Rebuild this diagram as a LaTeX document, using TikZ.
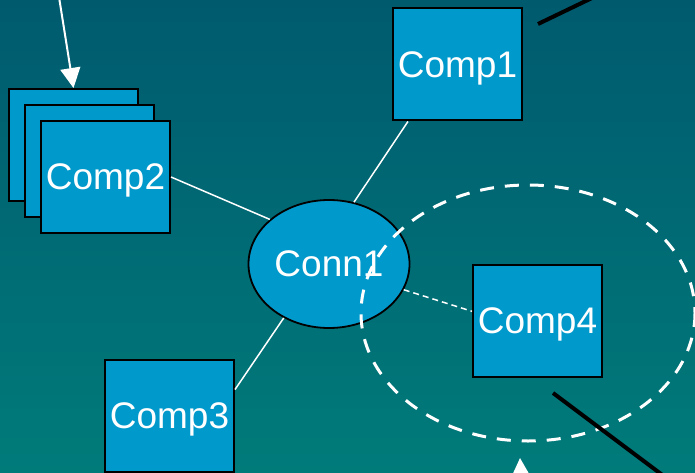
\documentclass[tikz,border=0pt]{standalone}
\usepackage{fontspec}
\setmainfont{Liberation Sans}
\usetikzlibrary{shapes.geometric,arrows.meta}
\definecolor{bgtop}{RGB}{0,90,110}
\definecolor{bgbot}{RGB}{0,123,122}
\definecolor{compblue}{RGB}{0,153,204}

\begin{document}
\begin{tikzpicture}[x=1pt, y=-1pt,
  comp/.style={draw=black, line width=2pt, rectangle, fill=compblue, minimum width=129pt, minimum height=112pt, inner sep=0pt, text depth=0pt, text=white, font=\fontsize{37}{40}\selectfont},
  conn/.style={draw=black, line width=1.8pt, ellipse, fill=compblue, minimum width=161pt, minimum height=128pt, inner sep=0pt, text depth=0pt, text=white, font=\fontsize{37}{40}\selectfont},
  link/.style={white, line width=1.5pt},
  inarrow/.style={white, line width=2pt, -{Triangle[length=20pt, width=20pt]}},
  wire/.style={black, line width=4pt}]
\shade[top color=bgtop, bottom color=bgbot] (0,0) rectangle (695,473);
\useasboundingbox (0,0) rectangle (695,473);
\clip (0,0) rectangle (695,473);

% components
\node[comp] (comp1) at (457.5,64.5) {Comp1};
\node[comp] (comp2c) at (73.5,145) {};
\node[comp] (comp2b) at (89.5,161) {};
\node[comp] (comp2) at (105.5,177) {Comp2};
\node[comp] (comp3) at (169.5,416) {Comp3};
\node[comp] (comp4) at (537.5,320.5) {Comp4};

% connector
\node[conn] (conn1) at (329,264) {Conn1};

\draw[link] (comp2.east) -- (conn1.143);
\draw[link] (comp1.229) -- (conn1.68);
\draw[link] (comp3.22) -- (conn1.230);
\draw[link, dash pattern=on 6pt off 4pt] (conn1.-19) -- (comp4.172);

% group around Comp4
\draw[white, line width=3pt, dash pattern=on 14pt off 11pt] (528,313) ellipse [x radius=167, y radius=128];

% incoming arrows
\coordinate (in1) at (59,-3);
\coordinate (in2) at (522,500);
\coordinate (tip2) at (520,458);
\draw[inarrow] (in1) -- (comp2c.north);
\draw[inarrow] (in2) -- (tip2);

% black wires
\coordinate (w1a) at (538,24);
\coordinate (w1b) at (592,-2);
\coordinate (w2a) at (553,393);
\coordinate (w2b) at (665,477);
\draw[wire] (w1a) -- (w1b);
\draw[wire] (w2a) -- (w2b);
\end{tikzpicture}
\end{document}
